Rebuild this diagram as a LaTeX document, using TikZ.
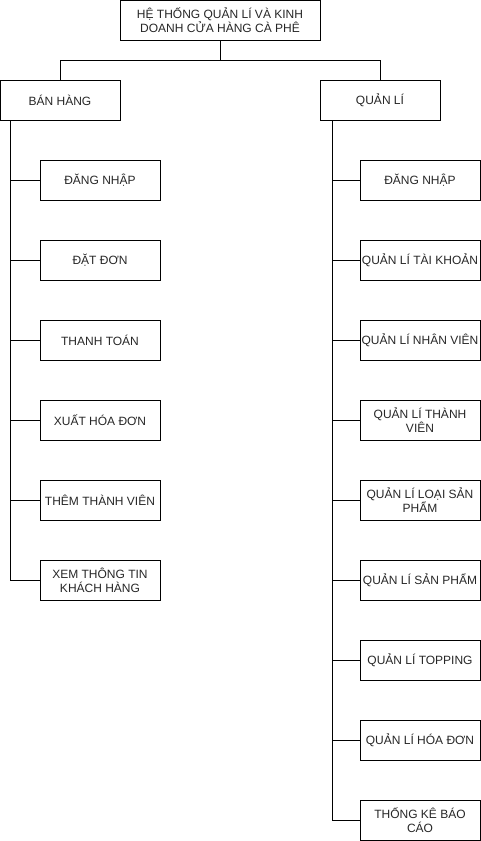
\documentclass[tikz,border=0pt]{standalone}
\usepackage{fontspec}
\setmainfont{Liberation Sans}
\begin{document}
\begin{tikzpicture}[x=1pt,y=-1pt,
  box/.style={draw=black,line width=1pt,minimum width=120pt,minimum height=40pt,
    align=center,inner sep=1pt,font=\fontsize{12}{14}\selectfont,text=black!85},
  conn/.style={draw=black,line width=1pt}]
\useasboundingbox (0,0) rectangle (481,841);
\node[box,minimum width=200pt] (root) at (220,20) {HỆ THỐNG QUẢN LÍ VÀ KINH\\DOANH CỬA HÀNG CÀ PHÊ};
\node[box] (ban) at (60,100) {BÁN HÀNG};
\node[box] (ql) at (380,100) {QUẢN LÍ};
\coordinate (mid) at (220,60);
\draw[conn] (root.south) -- (mid) -| (ban.north);
\draw[conn] (mid) -| (ql.north);
% left column
\node[box] (l1) at (100,180) {ĐĂNG NHẬP};
\node[box] (l2) at (100,260) {ĐẶT ĐƠN};
\node[box] (l3) at (100,340) {THANH TOÁN};
\node[box] (l4) at (100,420) {XUẤT HÓA ĐƠN};
\node[box] (l5) at (100,500) {THÊM THÀNH VIÊN};
\node[box] (l6) at (100,580) {XEM THÔNG TIN\\KHÁCH HÀNG};
\coordinate (lt) at (10.5,120);
\foreach \n in {l1,l2,l3,l4,l5,l6} {\draw[conn] (lt) |- (\n.west);}
% right column
\node[box] (r1) at (420,180) {ĐĂNG NHẬP};
\node[box] (r2) at (420,260) {QUẢN LÍ TÀI KHOẢN};
\node[box] (r3) at (420,340) {QUẢN LÍ NHÂN VIÊN};
\node[box] (r4) at (420,420) {QUẢN LÍ THÀNH\\VIÊN};
\node[box] (r5) at (420,500) {QUẢN LÍ LOẠI SẢN\\PHẨM};
\node[box] (r6) at (420,580) {QUẢN LÍ SẢN PHẨM};
\node[box] (r7) at (420,660) {QUẢN LÍ TOPPING};
\node[box] (r8) at (420,740) {QUẢN LÍ HÓA ĐƠN};
\node[box] (r9) at (420,820) {THỐNG KÊ BÁO\\CÁO};
\coordinate (rt) at (332,120);
\foreach \n in {r1,r2,r3,r4,r5,r6,r7,r8,r9} {\draw[conn] (rt) |- (\n.west);}
\end{tikzpicture}
\end{document}
